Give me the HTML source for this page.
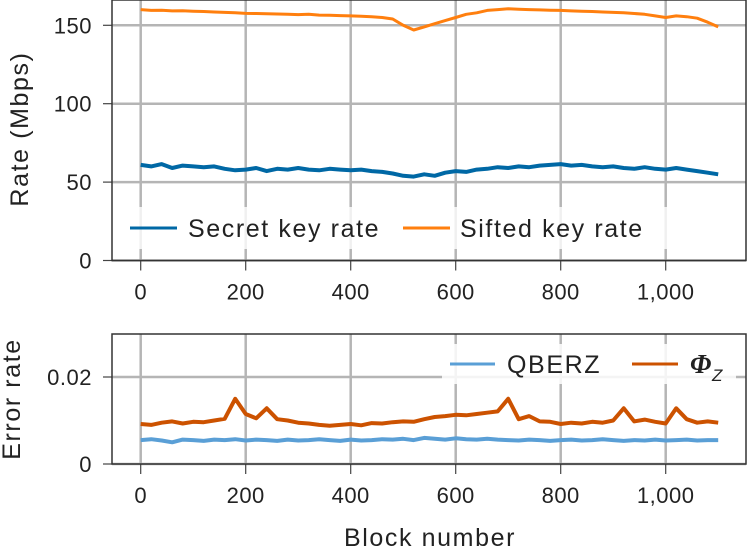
<!DOCTYPE html>
<html><head><meta charset="utf-8"><style>
body{margin:0;background:#fff;}
svg{display:block;font-family:"Liberation Sans",sans-serif;}
.big{letter-spacing:1.6px;}
</style></head><body>
<svg id="c" width="747" height="549"></svg>
<script>
const blocks=[0,20,40,60,80,100,120,140,160,180,200,220,240,260,280,300,320,340,360,380,400,420,440,460,480,500,520,540,560,580,600,620,640,660,680,700,720,740,760,780,800,820,840,860,880,900,920,940,960,980,1000,1020,1040,1060,1080,1100];
const sifted=[160,159.5,159.6,159.2,159.3,159,158.8,158.5,158.2,158,157.6,157.5,157.4,157.2,157,156.8,157,156.5,156.4,156.2,156,155.8,155.5,155,154,150,147,149,151,153,155,157,158,159.5,160,160.5,160.2,160,159.8,159.6,159.5,159.2,159,158.8,158.5,158.2,158,157.5,157,156,155,156,155.5,154.5,152,149];
const secret=[61,60,61.5,59,60.5,60,59.5,60,58.5,57.5,58,59,57,58.5,58,59,58,57.5,58.5,58,57.5,58,57,56.5,55.5,54,53.5,55,54,56,57,56.5,58,58.5,59.5,59,60,59.5,60.5,61,61.5,60.5,61,60,59.5,60,59,58.5,59.5,58.5,58,59,58,57,56,55];
const qber=[0.0055,0.0057,0.0054,0.005,0.0056,0.0055,0.0053,0.0056,0.0055,0.0057,0.0054,0.0056,0.0055,0.0053,0.0056,0.0054,0.0055,0.0057,0.0055,0.0053,0.0056,0.0054,0.0055,0.0057,0.0056,0.0058,0.0055,0.006,0.0058,0.0056,0.0059,0.0057,0.0056,0.0058,0.0056,0.0055,0.0054,0.0056,0.0055,0.0053,0.0055,0.0056,0.0054,0.0055,0.0057,0.0055,0.0053,0.0055,0.0054,0.0056,0.0054,0.0055,0.0056,0.0054,0.0055,0.0055];
const phi=[0.0092,0.009,0.0095,0.0098,0.0093,0.0097,0.0096,0.01,0.0104,0.015,0.0115,0.0105,0.0128,0.0103,0.01,0.0095,0.0093,0.009,0.0088,0.009,0.0092,0.0089,0.0094,0.0093,0.0096,0.0098,0.0097,0.0103,0.0108,0.011,0.0113,0.0112,0.0115,0.0118,0.0121,0.015,0.0103,0.011,0.0098,0.0097,0.0092,0.0095,0.0093,0.0097,0.0095,0.01,0.0128,0.0098,0.0102,0.0097,0.0093,0.0128,0.0103,0.0095,0.0098,0.0095];
const xTicks=[0,200,400,600,800,1000];
const xTickLabels=["0","200","400","600","800","1,000"];
const yTopTicks=[0,50,100,150];
const yBotTicks=[0,0.02];

const svg=document.getElementById('c');const NS='http://www.w3.org/2000/svg';
function el(t,a,p){const e=document.createElementNS(NS,t);for(const k in a)e.setAttribute(k,a[k]);(p||svg).appendChild(e);return e;}
const X=v=>140.7+v*(525/1000);
const Yt=v=>260.5-v*(78.4/50);
const Yb=v=>464-v*(87/0.02);
function panel(y0,y1,yTicks,Y,fmt,name){
  const g=el('g',{});
  xTicks.forEach(t=>{const l=el('line',{x1:X(t),x2:X(t),y1:y0,y2:y1,stroke:'#b5b5b5','stroke-width':2.5},g);});
  yTicks.forEach(t=>{const l=el('line',{x1:112,x2:746,y1:Y(t),y2:Y(t),stroke:'#b5b5b5','stroke-width':2.5},g);
    el('line',{x1:103,x2:112,y1:Y(t),y2:Y(t),stroke:'#444','stroke-width':1.2},g);
    const tx=el('text',{x:92,y:Y(t)+8,'text-anchor':'end','font-size':22,fill:'#222','letter-spacing':0.5},g);tx.textContent=fmt(t);});
  xTicks.forEach((t,i)=>{el('line',{x1:X(t),x2:X(t),y1:y1,y2:y1+10,stroke:'#444','stroke-width':1.2},g);
    const tx=el('text',{x:X(t),y:y1+39,'text-anchor':'middle','font-size':22,fill:'#222','letter-spacing':0.5},g);tx.textContent=xTickLabels[i];});
  return g;
}
function series(vals,Y,color,name,w){
  const d=vals.map((v,i)=>(i?'L':'M')+X(blocks[i]).toFixed(1)+','+Y(v).toFixed(1)).join('');
  const p=el('path',{d:d,fill:'none',stroke:color,'stroke-width':w,'stroke-linejoin':'round'});
  
}
panel(0,260.5,yTopTicks,Yt,v=>String(v),'top-panel-axes');
series(sifted,Yt,'#ff7f0e','sifted-key-rate-line',3);
series(secret,Yt,'#0068a5','secret-key-rate-line',4);
const lg=el('g',{});
el('rect',{x:122,y:207,width:560,height:42,fill:'#fff','fill-opacity':0.8},lg);
el('line',{x1:130,x2:177,y1:228,y2:228,stroke:'#0068a5','stroke-width':3},lg);
let t=el('text',{x:188,y:237,'font-size':25,fill:'#222',class:'big'},lg);t.textContent='Secret key rate';
el('line',{x1:403,x2:450,y1:228,y2:228,stroke:'#ff7f0e','stroke-width':3},lg);
t=el('text',{x:460,y:237,'font-size':25,fill:'#222',class:'big'},lg);t.textContent='Sifted key rate';
el('rect',{x:112,y:0,width:634,height:260.5,fill:'none',stroke:'#333','stroke-width':1.5});

panel(334,464,yBotTicks,Yb,v=>v===0?'0':v.toFixed(2),'bottom-panel-axes');
series(phi,Yb,'#cc5200','phi-z-line',4);
series(qber,Yb,'#5a9fd6','qber-z-line',4);
const lg2=el('g',{});
el('rect',{x:442,y:344,width:294,height:40,fill:'#fff','fill-opacity':0.85},lg2);
el('line',{x1:450,x2:495,y1:364,y2:364,stroke:'#5a9fd6','stroke-width':3},lg2);
t=el('text',{x:507,y:373,'font-size':25,fill:'#222',class:'big'},lg2);t.textContent='QBERZ';
el('line',{x1:632,x2:678,y1:364,y2:364,stroke:'#cc5200','stroke-width':3},lg2);
t=el('text',{x:690,y:373,'font-size':27,'font-style':'italic','font-weight':'bold','font-family':'Liberation Serif,serif',fill:'#222'},lg2);t.textContent='Φ';
t=el('text',{x:712,y:381,'font-size':17,'font-style':'italic',fill:'#222'},lg2);t.textContent='Z';

el('rect',{x:112,y:334,width:634,height:130,fill:'none',stroke:'#333','stroke-width':1.5});

t=el('text',{x:0,y:0,'font-size':25,fill:'#222','text-anchor':'middle',class:'big',transform:'translate(28,129) rotate(-90)'});t.textContent='Rate (Mbps)';
t=el('text',{x:0,y:0,'font-size':25,fill:'#222','text-anchor':'middle',class:'big',transform:'translate(20,399) rotate(-90)'});t.textContent='Error rate';
t=el('text',{x:430,y:546,'font-size':25,fill:'#222','text-anchor':'middle',class:'big'});t.textContent='Block number';
</script>
</body></html>
